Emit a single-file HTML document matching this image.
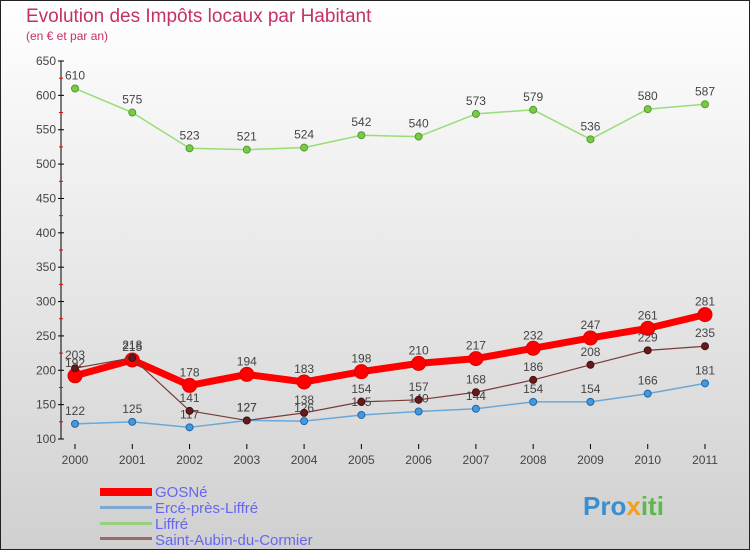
<!DOCTYPE html>
<html><head><meta charset="utf-8"><style>
body{margin:0;width:750px;height:550px;overflow:hidden;font-family:"Liberation Sans",sans-serif}
svg text{font-family:"Liberation Sans",sans-serif}
</style></head><body>
<svg id="c" width="750" height="550" xmlns="http://www.w3.org/2000/svg">
<defs><linearGradient id="bg" x1="0" y1="0" x2="0" y2="1"><stop offset="0" stop-color="#ffffff"/><stop offset="1" stop-color="#d0d0d0"/></linearGradient></defs>
<rect x="0.5" y="0.5" width="749" height="549" fill="url(#bg)" stroke="#222"/>
<text x="26" y="22" font-size="19" fill="#c4306a">Evolution des Impôts locaux par Habitant</text>
<text x="26" y="40" font-size="12" fill="#c4306a">(en € et par an)</text>
<g id="axes"></g><g id="series"></g>
<g>
<rect x="100" y="488" width="52" height="8" fill="#f00"/>
<text x="155" y="497" font-size="15" fill="#6666ee">GOSNé</text>
<rect x="100" y="506" width="52" height="3" fill="#7aa8d0"/>
<text x="155" y="513" font-size="15" fill="#6666ee">Ercé-près-Liffré</text>
<rect x="100" y="522" width="52" height="3" fill="#99d080"/>
<text x="155" y="529" font-size="15" fill="#6666ee">Liffré</text>
<rect x="100" y="537" width="52" height="3" fill="#9a6a6a"/>
<text x="155" y="545" font-size="15" fill="#6666ee">Saint-Aubin-du-Cormier</text>
</g>
<text x="583" y="515" font-size="26" font-weight="bold" fill="#3a8fd0">Pro<tspan fill="#f0a020">x</tspan><tspan fill="#5cb84a">iti</tspan></text>
</svg>
<script>
const years=[2000,2001,2002,2003,2004,2005,2006,2007,2008,2009,2010,2011];
const gosne=[192,215,178,194,183,198,210,217,232,247,261,281];
const erce=[122,125,117,127,126,135,140,144,154,154,166,181];
const liffre=[610,575,523,521,524,542,540,573,579,536,580,587];
const saintAubin=[203,218,141,127,138,154,157,168,186,208,229,235];
const yTicks=[100,150,200,250,300,350,400,450,500,550,600,650];
const NS="http://www.w3.org/2000/svg";
const X=i=>75+i*(630/11);
const Y=v=>439-(v-100)*(378/550);
function mk(t,a,p){const e=document.createElementNS(NS,t);for(const k in a)e.setAttribute(k,a[k]);p.appendChild(e);return e;}
const ax=document.getElementById('axes');
const yl=mk('line',{x1:61,y1:Y(650),x2:61,y2:439,stroke:'#000'},ax);


yTicks.forEach(v=>{
 mk('line',{x1:58,y1:Y(v),x2:64,y2:Y(v),stroke:'#000'},ax);
 if(v<650)mk('line',{x1:59,y1:Y(v+25),x2:63,y2:Y(v+25),stroke:'#e00'},ax);
 const t=mk('text',{x:56,y:Y(v)+4,'font-size':12,fill:'#444','text-anchor':'end'},ax);t.textContent=v;
 
 
});
years.forEach((y,i)=>{
 mk('line',{x1:X(i),y1:444,x2:X(i),y2:449,stroke:'#000'},ax);
 const t=mk('text',{x:X(i),y:464,'font-size':12,fill:'#444','text-anchor':'middle'},ax);t.textContent=y;
 
 
});
const sg=document.getElementById('series');
function series(d,name,col,w,r,mc,ms){
 const g=mk('g',{},sg);
 
 
 mk('polyline',{points:d.map((v,i)=>X(i)+','+Y(v)).join(' '),fill:'none',stroke:col,'stroke-width':w,'stroke-linejoin':'round'},g);
 d.forEach((v,i)=>{
  const c=mk('circle',{cx:X(i),cy:Y(v),r:r,fill:mc,stroke:ms,'stroke-width':1},g);
  
  
  const t=mk('text',{x:X(i),y:Y(v)-9,'font-size':12,fill:'#444','text-anchor':'middle'},g);t.textContent=v;
  
  
 });
}
series(liffre,'series-liffre','#99dd77',1.5,3.5,'#77cc44','#559933');
series(erce,'series-erce','#6aa8d8',1.5,3.5,'#4499dd','#2266aa');
series(gosne,'series-gosne','#ff0000',7,7,'#ff0000','#dd0000');
series(saintAubin,'series-saint-aubin','#7a3a3a',1.2,3.5,'#661a1a','#441111');
</script>
</body></html>
